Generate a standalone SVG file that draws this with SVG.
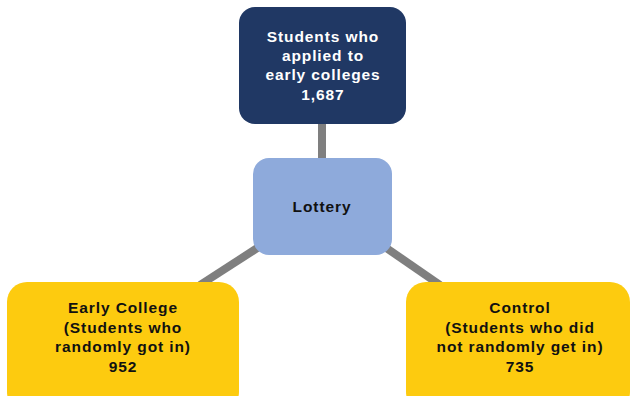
<svg xmlns="http://www.w3.org/2000/svg" width="632" height="396" viewBox="0 0 632 396">
<style>
.t{font-family:"Liberation Sans",Arial,sans-serif;font-size:15.5px;font-weight:700;letter-spacing:0.9px;text-anchor:middle}
.w{fill:#ffffff}
.k{fill:#111111}
.c{stroke:#7f7f7f;stroke-width:8;fill:none}
</style>
<rect width="632" height="396" fill="#ffffff"/>
<g id="connectors">
<line class="c" x1="322" y1="120" x2="322" y2="162"/>
<line class="c" x1="262" y1="245" x2="200" y2="285"/>
<line class="c" x1="382" y1="245" x2="440" y2="285"/>
</g>
<g id="applied">
<rect x="239" y="7" width="167" height="117" rx="16" fill="#203864"/>
<text class="t w" x="323" y="42">Students who</text>
<text class="t w" x="323" y="61">applied  to</text>
<text class="t w" x="323" y="80">early colleges</text>
<text class="t w" x="323" y="100">1,687</text>
</g>
<g id="lottery">
<rect x="253" y="158" width="139" height="97" rx="16" fill="#8eaadb"/>
<text class="t k" x="322" y="212">Lottery</text>
</g>
<g id="early">
<rect x="7" y="282" width="232" height="130" rx="20" fill="#fdcb0f"/>
<text class="t k" x="123" y="313">Early College</text>
<text class="t k" x="123" y="333">(Students who</text>
<text class="t k" x="123" y="352">randomly got in)</text>
<text class="t k" x="123" y="372">952</text>
</g>
<g id="control">
<rect x="406" y="282" width="224" height="130" rx="20" fill="#fdcb0f"/>
<text class="t k" x="520" y="313">Control</text>
<text class="t k" x="520" y="333">(Students who did</text>
<text class="t k" x="520" y="352">not randomly get in)</text>
<text class="t k" x="520" y="372">735</text>
</g>
</svg>
